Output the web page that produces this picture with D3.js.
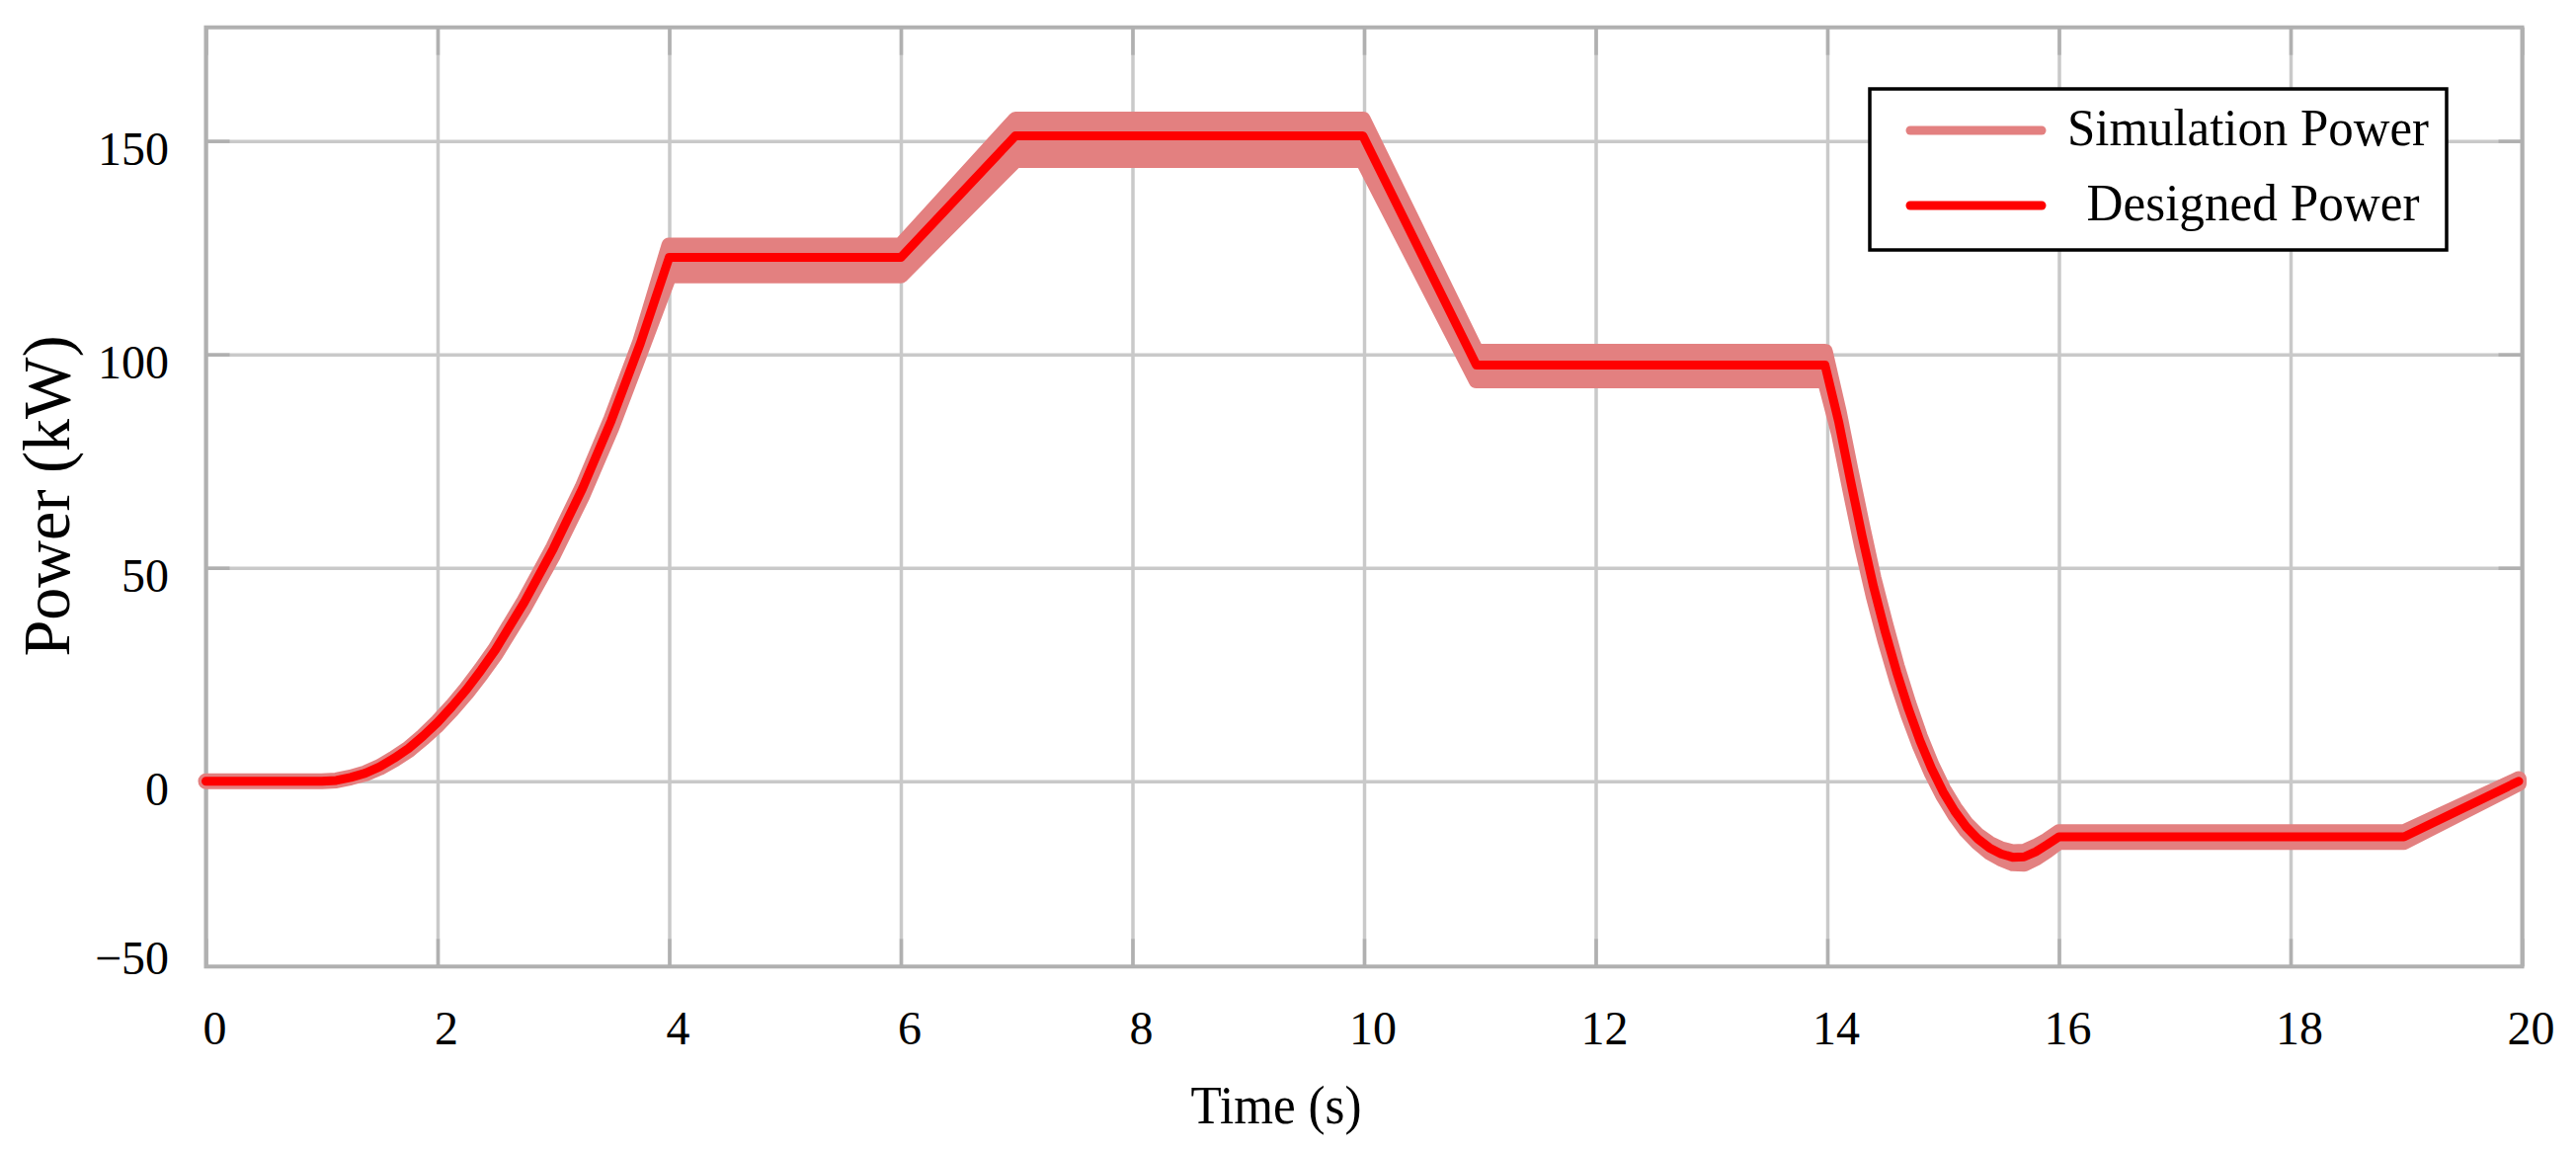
<!DOCTYPE html>
<html>
<head>
<meta charset="utf-8">
<title>Power</title>
<script src="https://cdn.jsdelivr.net/npm/d3@7"></script>
<style>
body { margin: 0; background: #fff; }
text { font-family: "Liberation Serif", "Times New Roman", serif; fill: #000; }
</style>
</head>
<body>
<div id="chart"></div>
<script>

// values
const time = [0, 1.0, 1.125, 1.25, 1.375, 1.5, 1.625, 1.75, 1.875, 2.0,
	2.125, 2.25, 2.375, 2.5, 2.75, 3.0, 3.25, 3.5, 3.75, 4.0,
	6.0, 6.99, 9.99, 10.97, 13.98,
	14.1, 14.2, 14.3, 14.4, 14.5, 14.6, 14.7, 14.8, 14.9, 15.0,
	15.1, 15.2, 15.3, 15.4, 15.5, 15.6, 15.7, 15.8, 15.9, 16.0,
	18.98, 19.97];
const designed = [0, 0, 0.2, 0.9, 1.9, 3.4, 5.4, 7.7, 10.6, 13.8,
	17.5, 21.5, 26, 30.8, 42, 54.5, 68.5, 84.5, 102.5, 122.7,
	122.7, 151.2, 151.2, 97.5, 97.5,
	84, 70.5, 57.5, 45.5, 35, 25.5, 17, 9.5, 3, -2.5,
	-7, -10.7, -13.5, -15.6, -17, -17.8, -17.7, -16.5, -14.8, -13,
	-13, 0];
// envelope of the noisy simulation trace
const simLow = [0, 0, 0.2, 0.9, 1.8, 3.2, 5.1, 7.3, 10.1, 13.2,
	16.8, 20.7, 25.1, 29.8, 40.8, 53.1, 66.9, 82.7, 100.5, 118.5,
	118.5, 145.5, 145.5, 93.9, 93.9,
	81.5, 68, 55, 43.3, 33, 23.7, 15.5, 8.3, 2, -3.3,
	-7.8, -11.5, -14.3, -16.6, -18.1, -19.2, -19.3, -18, -16.2, -14.2,
	-14.2, -0.5];
const simHigh = [0, 0, 0.2, 0.9, 1.9, 3.4, 5.4, 7.7, 10.6, 13.9,
	17.6, 21.7, 26.2, 31, 42.3, 54.8, 68.8, 84.9, 103, 125.5,
	125.5, 155, 155, 100.6, 100.6,
	86.5, 73, 60, 47.5, 37, 27, 18.3, 10.5, 3.8, -1.8,
	-6.3, -10, -12.7, -14.6, -15.9, -16.6, -16.5, -15.3, -13.8, -11.9,
	-11.9, 0.5];

const xDomain = [0, 20];
const xTicks = [0, 2, 4, 6, 8, 10, 12, 14, 16, 18, 20];
const yDomain = [-43.4, 176.6];
const yGrid = [0, 50, 100, 150];
const yTicks = [-43.4, 0, 50, 100, 150];
const yTickLabels = ["\u221250", "0", "50", "100", "150"];
const seriesNames = ["Simulation Power", "Designed Power"];

const width = 2608, height = 1165;
const gridColor = "#c9c9c9", frameColor = "#b0b0b0";
const simColor = "#e38080", designColor = "#ff0000";

let svg = d3.select("#chart").append("svg")
	.attr("width", width)
	.attr("height", height);

let x = d3.scaleLinear().domain(xDomain).range([208.5, 2553.5]);
let y = d3.scaleLinear().domain(yDomain).range([978.3, 27.7]);
const plotW = x.range()[1] - x.range()[0];
const plotH = y.range()[0] - y.range()[1];

// grid
svg.append("g")
	.attr("transform", `translate(0,${y.range()[0]})`)
	.call(d3.axisBottom(x).tickValues(xTicks).tickSize(-plotH).tickFormat(""))
	.call(g => g.select(".domain").remove())
	.call(g => g.selectAll("line").attr("stroke", gridColor).attr("stroke-width", 3.5));
svg.append("g")
	.attr("transform", `translate(${x.range()[0]},0)`)
	.call(d3.axisLeft(y).tickValues(yGrid).tickSize(-plotW).tickFormat(""))
	.call(g => g.select(".domain").remove())
	.call(g => g.selectAll("line").attr("stroke", gridColor).attr("stroke-width", 3.5));

// short inward ticks on all four sides
let tickStyle = g => {
	g.select(".domain").remove();
	g.selectAll("line").attr("stroke", frameColor).attr("stroke-width", 3.5);
};
svg.append("g").attr("transform", `translate(0,${y.range()[0]})`)
	.call(d3.axisBottom(x).tickValues(xTicks).tickSize(-28).tickFormat("")).call(tickStyle);
svg.append("g").attr("transform", `translate(0,${y.range()[1]})`)
	.call(d3.axisTop(x).tickValues(xTicks).tickSize(-28).tickFormat("")).call(tickStyle);
svg.append("g").attr("transform", `translate(${x.range()[0]},0)`)
	.call(d3.axisLeft(y).tickValues(yGrid).tickSize(-24).tickFormat("")).call(tickStyle);
svg.append("g").attr("transform", `translate(${x.range()[1]},0)`)
	.call(d3.axisRight(y).tickValues(yGrid).tickSize(-24).tickFormat("")).call(tickStyle);

// frame
svg.append("rect")
	.attr("x", x.range()[0])
	.attr("y", y.range()[1])
	.attr("width", plotW)
	.attr("height", plotH)
	.attr("fill", "none")
	.attr("stroke", frameColor)
	.attr("stroke-width", 4);

// tick labels
svg.append("g").attr("transform", `translate(0,${y.range()[0]})`)
	.call(d3.axisBottom(x).tickValues(xTicks).tickSize(0).tickFormat(d3.format("d")))
	.call(g => g.select(".domain").remove())
	.call(g => g.selectAll("text")
		.attr("dy", null)
		.attr("y", 79)
		.attr("x", 8.5)
		.attr("font-size", 48)
		.attr("font-family", null));

svg.append("g").attr("transform", `translate(${x.range()[0]},0)`)
	.call(d3.axisLeft(y).tickValues(yTicks).tickSize(0).tickFormat((d, i) => yTickLabels[i]))
	.call(g => g.select(".domain").remove())
	.call(g => g.selectAll("text")
		.attr("dy", null)
		.attr("x", -37.5)
		.attr("y", d => d === yDomain[0] ? 7 : 24)
		.attr("text-anchor", "end")
		.attr("font-size", 48)
		.attr("font-family", null));

// axis titles
svg.append("text")
	.attr("x", 1292)
	.attr("y", 1137)
	.attr("text-anchor", "middle")
	.attr("font-size", 54)
	.attr("textLength", 173)
	.attr("lengthAdjust", "spacingAndGlyphs")
	.text("Time (s)");

svg.append("text")
	.attr("transform", "translate(70,502) rotate(-90)")
	.attr("text-anchor", "middle")
	.attr("font-size", 67)
	.attr("textLength", 325)
	.attr("lengthAdjust", "spacingAndGlyphs")
	.text("Power (kW)");

// series
let rows = time.map((t, i) => ({t: t, d: designed[i], lo: simLow[i], hi: simHigh[i]}));

let band = d3.area()
	.x(r => x(r.t))
	.y0(r => y(r.lo))
	.y1(r => y(r.hi));

svg.append("path")
	.datum(rows)
	.attr("d", band)
	.attr("fill", simColor)
	.attr("stroke", simColor)
	.attr("stroke-width", 16)
	.attr("stroke-linejoin", "round");

let line = d3.line()
	.x(r => x(r.t))
	.y(r => y(r.d));

svg.append("path")
	.datum(rows)
	.attr("d", line)
	.attr("fill", "none")
	.attr("stroke", designColor)
	.attr("stroke-width", 9)
	.attr("stroke-linejoin", "round")
	.attr("stroke-linecap", "round");

// legend
let legend = svg.append("g");
legend.append("rect")
	.attr("x", 1893)
	.attr("y", 90)
	.attr("width", 584)
	.attr("height", 163)
	.attr("fill", "#fff")
	.attr("stroke", "#000")
	.attr("stroke-width", 3.5);

const legendColors = [simColor, designColor];
const legendText = [{cx: 2276, len: 366}, {cx: 2281, len: 337}];
seriesNames.forEach((name, i) => {
	let ly = 132 + i * 76;
	legend.append("line")
		.attr("x1", 1934).attr("x2", 2067)
		.attr("y1", ly).attr("y2", ly)
		.attr("stroke", legendColors[i])
		.attr("stroke-width", 9)
		.attr("stroke-linecap", "round");
	legend.append("text")
		.attr("x", legendText[i].cx)
		.attr("y", ly + 15)
		.attr("text-anchor", "middle")
		.attr("font-size", 52)
		.attr("textLength", legendText[i].len)
		.attr("lengthAdjust", "spacingAndGlyphs")
		.text(name);
});

</script>
</body>
</html>
